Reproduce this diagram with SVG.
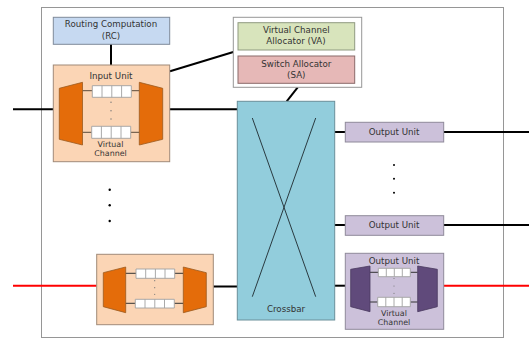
<svg xmlns="http://www.w3.org/2000/svg" width="529" height="338" viewBox="0 0 529 338">
<style>
text{font-family:"DejaVu Sans","Liberation Sans",sans-serif;font-size:8.7px;fill:#333;text-anchor:middle}
.sm{font-size:7.9px}
.w{stroke:#000;stroke-width:2;fill:none}
.r{stroke:#f00;stroke-width:2;fill:none}
.x{stroke:#2a3a40;stroke-width:1;fill:none}
.in{fill:#fbd5b5;stroke:#a08a78;stroke-width:1}
.out{fill:#ccc1da;stroke:#8f8a9a;stroke-width:1}
.to{fill:#e46c0a;stroke:#9a5a20;stroke-width:.8}
.tp{fill:#604a7b;stroke:#4a3a60;stroke-width:.8}
.q{fill:#fff;stroke:#a0a0a0;stroke-width:.9}
.s{stroke:#5a4a3a;stroke-width:1;fill:none}
.s2{stroke:#333;stroke-width:1;fill:none}
.d{fill:#000}
.dg{fill:#777}
</style>
<rect x="41.5" y="7.5" width="462" height="330" fill="#fff" stroke="#969696" stroke-width="1"/>
<g id="connectors">
<path class="w" d="M111 44V65"/>
<path class="w" d="M170 71.3L233.3 52"/>
<path class="w" d="M297.7 87.3L286.7 101.3"/>
<path class="w" d="M13 109.3H53.3M169.7 109.3H237.3"/>
<path class="r" d="M13 285.7H96.7"/>
<path class="w" d="M213.3 286.5H237.3"/>
<path class="w" d="M334.7 132H345.3M443.7 132H529"/>
<path class="w" d="M334.7 225H345.3M443.7 225H529"/>
<path class="w" d="M334.7 285.7H345.3"/>
<path class="r" d="M443.7 285.7H529"/>
</g>
<g id="rc"><rect x="53.3" y="17.3" width="116.4" height="27" fill="#c6d9f1" stroke="#7f8a9a"/><text x="111" y="27.3">Routing Computation</text><text x="111" y="38.7">(RC)</text></g>
<g id="input-unit-1">
<rect class="in" x="53.3" y="65" width="116.4" height="96.7"/>
<text x="111" y="79.3">Input Unit</text>
<path class="s" d="M82.5 90.7H92.3M131.3 90.7H139.3M82.5 132.3H91.7M130.7 132.3H139.3"/>
<path class="to" d="M59.3 88.3L82.5 82.3V145L59.3 139.3Z"/>
<path class="to" d="M139.3 82.3L162.7 88.3V139.3L139.3 145Z"/>
<path class="q" d="M92.3 85.7H131.3V97.3H92.3ZM102 85.7V97.3M111.8 85.7V97.3M121.6 85.7V97.3"/>
<path class="q" d="M91.7 126.3H130.7V138.3H91.7ZM101.4 126.3V138.3M111.2 126.3V138.3M121 126.3V138.3"/>
<circle class="dg" cx="111" cy="102.3" r=".7"/><circle class="dg" cx="111" cy="110.7" r=".7"/><circle class="dg" cx="111" cy="119" r=".7"/>
<text class="sm" x="110.5" y="146.5">Virtual</text><text class="sm" x="110.5" y="156.3">Channel</text>
</g>
<g id="allocators">
<rect x="233.3" y="17.3" width="128.4" height="70" fill="#fff" stroke="#969696"/>
</g>
<g id="va"><rect x="238" y="22.7" width="116.7" height="27.3" fill="#d8e4bc" stroke="#8f9a80"/><text x="296.3" y="32.7">Virtual Channel</text><text x="296" y="44">Allocator (VA)</text></g>
<g id="sa"><rect x="238" y="56" width="116.7" height="27.3" fill="#e6b8b7" stroke="#8a6a6a"/><text x="296.3" y="66.7">Switch Allocator</text><text x="296.3" y="78">(SA)</text></g>
<g id="crossbar">
<rect x="237.3" y="101.3" width="97.4" height="218.7" fill="#92cddc" stroke="#6a8f9a"/>
<path class="x" d="M252.3 118L315.7 296.7M315.7 118L252.3 296.7"/>
<text x="286" y="311.7">Crossbar</text>
</g>
<g id="output-unit-1"><rect class="out" x="345.3" y="122.3" width="98.4" height="19.7"/><text x="394" y="134.5">Output Unit</text></g>
<g id="output-unit-2"><rect class="out" x="345.3" y="215.7" width="98.4" height="19.6"/><text x="394" y="227.5">Output Unit</text></g>
<g id="output-unit-3">
<rect class="out" x="345.3" y="253.3" width="98.4" height="76"/>
<text x="394" y="264">Output Unit</text>
<path class="s2" d="M370 272.3H378.3M410.3 272.3H417.7M370 302H377.7M410.3 302H417.7"/>
<path class="tp" d="M350.7 269.3L370 266V311.7L350.7 306.7Z"/>
<path class="tp" d="M417.7 266L437.3 269.3V306.7L417.7 311.7Z"/>
<path class="q" d="M378.3 268.3H410.3V276.7H378.3ZM386.3 268.3V276.7M394.3 268.3V276.7M402.3 268.3V276.7"/>
<path class="q" d="M377.7 297.3H410.3V306.7H377.7ZM385.8 297.3V306.7M394 297.3V306.7M402.2 297.3V306.7"/>
<circle class="dg" cx="394" cy="278.5" r=".6"/><circle class="dg" cx="394" cy="286" r=".6"/><circle class="dg" cx="394" cy="293.3" r=".6"/>
<text class="sm" x="394" y="316">Virtual</text><text class="sm" x="394" y="325">Channel</text>
</g>
<g id="input-unit-2">
<rect class="in" x="96.7" y="254.3" width="116.6" height="70.4"/>
<path class="s2" d="M125.5 273.3H136M174.7 273.3H183.3M125.5 303.3H135.3M174.3 303.3H183.3"/>
<path class="to" d="M103.3 272.7L125.7 267V312.7L103.3 306.7Z"/>
<path class="to" d="M183.3 267L206.3 272.7V306.7L183.3 312.7Z"/>
<path class="q" d="M136 269H174.7V278.3H136ZM145.7 269V278.3M155.4 269V278.3M165 269V278.3"/>
<path class="q" d="M135.3 299.3H174.3V308H135.3ZM145 299.3V308M154.8 299.3V308M164.5 299.3V308"/>
<circle class="dg" cx="154.7" cy="280.7" r=".6"/><circle class="dg" cx="154.7" cy="287.7" r=".6"/><circle class="dg" cx="154.7" cy="294.3" r=".6"/>
</g>
<g id="ellipsis-left"><circle class="d" cx="109.7" cy="189.7" r="1.2"/><circle class="d" cx="109.7" cy="205.3" r="1.2"/><circle class="d" cx="109.7" cy="221" r="1.2"/></g>
<g id="ellipsis-right"><circle class="d" cx="394" cy="165" r="1"/><circle class="d" cx="394" cy="178.7" r="1"/><circle class="d" cx="394" cy="192.7" r="1"/></g>
</svg>
